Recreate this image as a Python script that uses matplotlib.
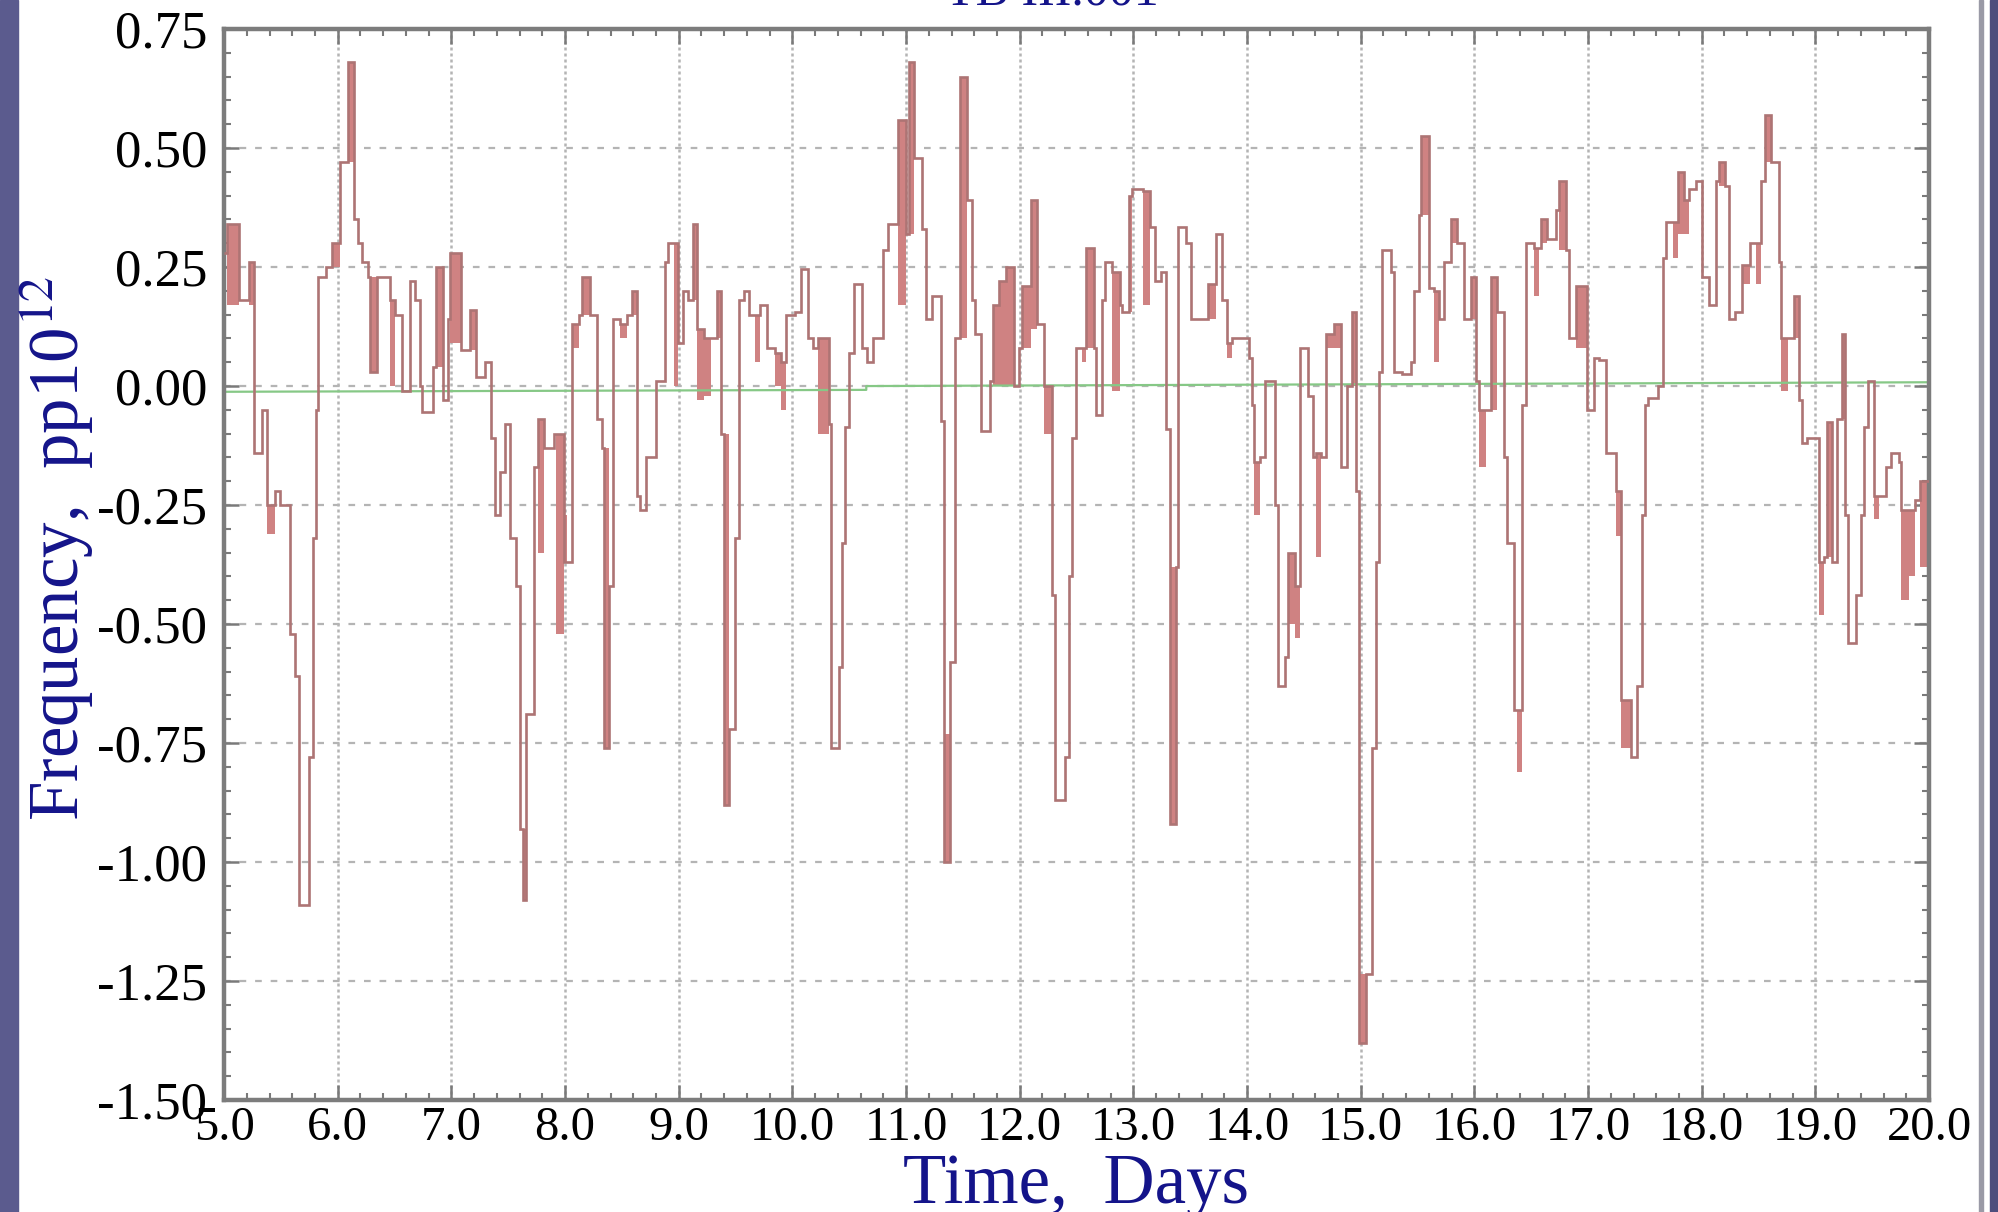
import matplotlib
matplotlib.use("Agg")
import matplotlib.pyplot as plt
from matplotlib.patches import Rectangle
from matplotlib.ticker import MultipleLocator, FormatStrFormatter

plt.rcParams['axes.unicode_minus'] = False
plt.rcParams['font.family'] = ['Liberation Serif', 'DejaVu Serif']
plt.rcParams['mathtext.fontset'] = 'stix'

# step series: start time of each step (days) and its value (pp10^12)
step_t = [5.000, 5.026, 5.129, 5.216, 5.260, 5.333, 5.377, 5.450, 5.494, 5.582,
          5.626, 5.655, 5.743, 5.778, 5.807, 5.830, 5.900, 5.947, 6.020, 6.088,
          6.146, 6.181, 6.210, 6.269, 6.284, 6.342, 6.459, 6.503, 6.561, 6.635,
          6.678, 6.722, 6.737, 6.839, 6.868, 6.927, 6.971, 6.985, 7.088, 7.161,
          7.219, 7.292, 7.351, 7.380, 7.424, 7.468, 7.512, 7.571, 7.600, 7.629,
          7.658, 7.730, 7.759, 7.817, 7.904, 7.991, 8.064, 8.122, 8.151, 8.223,
          8.281, 8.325, 8.339, 8.383, 8.426, 8.484, 8.542, 8.586, 8.629, 8.658,
          8.716, 8.803, 8.875, 8.904, 8.991, 9.035, 9.078, 9.122, 9.165, 9.223,
          9.333, 9.368, 9.397, 9.441, 9.499, 9.528, 9.571, 9.614, 9.716, 9.774,
          9.846, 9.904, 9.948, 10.020, 10.078, 10.135, 10.179, 10.222, 10.323, 10.337,
          10.409, 10.438, 10.467, 10.496, 10.539, 10.611, 10.654, 10.712, 10.798, 10.841,
          10.928, 11.000, 11.029, 11.072, 11.144, 11.173, 11.231, 11.303, 11.331, 11.389,
          11.432, 11.476, 11.533, 11.576, 11.605, 11.663, 11.735, 11.764, 11.821, 11.879,
          11.951, 11.994, 12.023, 12.095, 12.153, 12.210, 12.282, 12.311, 12.398, 12.435,
          12.464, 12.493, 12.580, 12.652, 12.667, 12.725, 12.754, 12.812, 12.884, 12.899,
          12.957, 12.986, 13.087, 13.145, 13.188, 13.246, 13.290, 13.319, 13.377, 13.391,
          13.464, 13.507, 13.652, 13.725, 13.783, 13.826, 13.870, 14.014, 14.043, 14.058,
          14.116, 14.159, 14.246, 14.275, 14.333, 14.362, 14.420, 14.464, 14.536, 14.580,
          14.609, 14.652, 14.696, 14.768, 14.826, 14.883, 14.927, 14.956, 14.985, 15.044,
          15.103, 15.132, 15.161, 15.191, 15.264, 15.293, 15.367, 15.440, 15.469, 15.513,
          15.528, 15.601, 15.645, 15.689, 15.733, 15.792, 15.850, 15.909, 15.968, 16.012,
          16.041, 16.144, 16.202, 16.261, 16.290, 16.349, 16.422, 16.452, 16.525, 16.584,
          16.642, 16.716, 16.745, 16.804, 16.833, 16.891, 16.994, 17.053, 17.097, 17.155,
          17.243, 17.287, 17.375, 17.429, 17.473, 17.501, 17.530, 17.617, 17.660, 17.689,
          17.790, 17.847, 17.890, 17.948, 18.006, 18.063, 18.127, 18.150, 18.207, 18.236,
          18.294, 18.352, 18.424, 18.524, 18.553, 18.611, 18.683, 18.697, 18.813, 18.856,
          18.885, 18.928, 19.029, 19.072, 19.101, 19.144, 19.187, 19.231, 19.259, 19.288,
          19.360, 19.403, 19.432, 19.461, 19.519, 19.620, 19.663, 19.735, 19.749, 19.879,
          19.922]
step_v = [0.28, 0.34, 0.18, 0.26, -0.14, -0.05, -0.25, -0.22, -0.25, -0.52,
          -0.61, -1.09, -0.78, -0.32, -0.05, 0.23, 0.25, 0.30, 0.47, 0.68,
          0.35, 0.30, 0.26, 0.23, 0.03, 0.23, 0.18, 0.15, -0.01, 0.22,
          0.18, 0.00, -0.055, 0.04, 0.25, -0.03, 0.14, 0.28, 0.075, 0.16,
          0.02, 0.05, -0.11, -0.27, -0.18, -0.08, -0.32, -0.42, -0.93, -1.08,
          -0.69, -0.17, -0.07, -0.13, -0.10, -0.37, 0.13, 0.15, 0.23, 0.15,
          -0.07, -0.13, -0.76, -0.42, 0.14, 0.13, 0.15, 0.20, -0.23, -0.26,
          -0.15, 0.01, 0.26, 0.30, 0.09, 0.20, 0.18, 0.34, 0.12, 0.10,
          0.20, -0.10, -0.88, -0.72, -0.32, 0.18, 0.20, 0.15, 0.17, 0.08,
          0.07, 0.05, 0.15, 0.155, 0.245, 0.10, 0.08, 0.10, -0.08, -0.76,
          -0.59, -0.33, -0.085, 0.07, 0.215, 0.08, 0.05, 0.10, 0.285, 0.34,
          0.56, 0.32, 0.68, 0.48, 0.33, 0.14, 0.19, -0.074, -1.00, -0.58,
          0.10, 0.65, 0.39, 0.18, 0.11, -0.095, 0.01, 0.17, 0.22, 0.25,
          0.00, 0.08, 0.21, 0.39, 0.13, 0.00, -0.44, -0.87, -0.78, -0.40,
          -0.11, 0.08, 0.29, 0.08, -0.06, 0.18, 0.26, 0.24, 0.17, 0.155,
          0.40, 0.415, 0.41, 0.335, 0.22, 0.24, -0.09, -0.92, -0.38, 0.335,
          0.30, 0.14, 0.215, 0.32, 0.18, 0.09, 0.10, 0.06, -0.04, -0.16,
          -0.15, 0.01, -0.25, -0.63, -0.57, -0.35, -0.42, 0.08, -0.02, -0.15,
          -0.14, -0.15, 0.11, 0.13, -0.17, 0.00, 0.155, -0.22, -1.38, -1.235,
          -0.76, -0.37, 0.03, 0.285, 0.24, 0.03, 0.025, 0.05, 0.20, 0.36,
          0.525, 0.205, 0.20, 0.14, 0.26, 0.35, 0.30, 0.14, 0.23, 0.01,
          -0.05, 0.23, 0.155, -0.15, -0.33, -0.68, -0.04, 0.30, 0.29, 0.35,
          0.31, 0.37, 0.43, 0.285, 0.10, 0.21, -0.05, 0.06, 0.055, -0.14,
          -0.22, -0.66, -0.78, -0.63, -0.27, -0.04, -0.025, 0.00, 0.27, 0.345,
          0.45, 0.39, 0.415, 0.43, 0.23, 0.17, 0.43, 0.47, 0.42, 0.14,
          0.155, 0.255, 0.30, 0.43, 0.57, 0.47, 0.26, 0.10, 0.19, -0.03,
          -0.12, -0.11, -0.37, -0.36, -0.075, -0.37, -0.07, 0.11, -0.27, -0.54,
          -0.44, -0.27, -0.085, 0.01, -0.23, -0.17, -0.14, -0.16, -0.26, -0.24,
          -0.20]
t_end = 20.0

# densely sampled stretches that show as solid blocks: start, end, low, high
blk_t0 = [5.026, 5.216, 5.377, 5.947, 6.088, 6.284, 6.459, 6.868, 6.985, 7.161,
          7.629, 7.759, 7.919, 7.991, 8.064, 8.151, 8.339, 8.484, 8.586, 8.962,
          9.122, 9.165, 9.223, 9.333, 9.397, 9.672, 9.846, 9.904, 10.222, 10.928,
          11.029, 11.331, 11.476, 11.764, 11.821, 11.879, 12.023, 12.095, 12.210, 12.551,
          12.580, 12.812, 12.957, 13.087, 13.319, 13.652, 13.826, 14.058, 14.362, 14.420,
          14.609, 14.696, 14.768, 14.927, 14.985, 15.528, 15.645, 15.792, 15.968, 16.041,
          16.144, 16.378, 16.525, 16.584, 16.745, 16.891, 17.243, 17.287, 17.746, 17.790,
          17.847, 18.150, 18.352, 18.481, 18.553, 18.697, 18.813, 19.029, 19.101, 19.231,
          19.519, 19.749, 19.821, 19.922]
blk_t1 = [5.129, 5.260, 5.450, 6.020, 6.146, 6.342, 6.503, 6.927, 7.088, 7.219,
          7.658, 7.817, 7.991, 8.020, 8.122, 8.223, 8.383, 8.542, 8.629, 8.991,
          9.165, 9.223, 9.281, 9.368, 9.441, 9.716, 9.904, 9.948, 10.323, 11.000,
          11.072, 11.389, 11.533, 11.821, 11.879, 11.951, 12.095, 12.153, 12.282, 12.580,
          12.652, 12.884, 12.986, 13.145, 13.377, 13.725, 13.870, 14.116, 14.420, 14.464,
          14.652, 14.768, 14.826, 14.956, 15.044, 15.601, 15.689, 15.850, 16.012, 16.100,
          16.202, 16.422, 16.569, 16.642, 16.804, 16.994, 17.287, 17.375, 17.790, 17.847,
          17.890, 18.207, 18.424, 18.524, 18.611, 18.755, 18.856, 19.072, 19.144, 19.259,
          19.562, 19.821, 19.879, 20.000]
blk_lo = [0.17, 0.17, -0.31, 0.25, 0.47, 0.03, 0.00, 0.04, 0.09, 0.075,
          -1.08, -0.35, -0.52, -0.37, 0.08, 0.15, -0.76, 0.10, 0.15, 0.00,
          0.18, -0.03, -0.02, 0.10, -0.88, 0.05, 0.00, -0.05, -0.10, 0.17,
          0.32, -1.00, 0.10, 0.00, 0.00, 0.00, 0.08, 0.12, -0.10, 0.05,
          0.08, -0.01, 0.155, 0.17, -0.92, 0.14, 0.06, -0.27, -0.50, -0.53,
          -0.36, 0.08, 0.08, 0.00, -1.38, 0.36, 0.05, 0.30, 0.14, -0.17,
          -0.05, -0.81, 0.19, 0.30, 0.285, 0.08, -0.315, -0.76, 0.27, 0.32,
          0.32, 0.42, 0.215, 0.215, 0.47, -0.01, 0.10, -0.48, -0.36, -0.07,
          -0.28, -0.45, -0.40, -0.38]
blk_hi = [0.34, 0.26, -0.25, 0.30, 0.68, 0.23, 0.18, 0.25, 0.28, 0.16,
          -0.93, -0.07, -0.10, -0.27, 0.13, 0.23, -0.13, 0.13, 0.20, 0.30,
          0.34, 0.12, 0.10, 0.20, -0.10, 0.15, 0.07, 0.05, 0.10, 0.56,
          0.68, -0.73, 0.65, 0.17, 0.22, 0.25, 0.21, 0.39, 0.00, 0.08,
          0.29, 0.24, 0.40, 0.41, -0.38, 0.215, 0.09, -0.16, -0.35, -0.42,
          -0.14, 0.11, 0.13, 0.155, -1.235, 0.525, 0.20, 0.35, 0.23, -0.05,
          0.23, -0.68, 0.29, 0.35, 0.43, 0.21, -0.22, -0.66, 0.345, 0.45,
          0.39, 0.47, 0.255, 0.30, 0.57, 0.10, 0.19, -0.37, -0.075, 0.11,
          -0.23, -0.26, -0.26, -0.20]

# reference (green) line
ref_t = [5.0, 10.65, 10.65, 20.0]
ref_v = [-0.012, -0.008, 0.0, 0.008]

x_ticks = [5.0, 6.0, 7.0, 8.0, 9.0, 10.0, 11.0, 12.0, 13.0, 14.0, 15.0, 16.0, 17.0, 18.0, 19.0, 20.0]
y_ticks = [0.75, 0.50, 0.25, 0.00, -0.25, -0.50, -0.75, -1.00, -1.25, -1.50]

fig = plt.figure(figsize=(19.99, 12.12), dpi=100)
fig.patch.set_facecolor('white')
ax = fig.add_axes([0.1121, 0.0924, 0.8529, 0.8836])

# slide background strips
fig.patches.append(Rectangle((0, 0), 18 / 1999, 1, transform=fig.transFigure, color='#5b5b8e', zorder=0))
fig.patches.append(Rectangle((1979 / 1999, 0), 4 / 1999, 1, transform=fig.transFigure, color='#9a9aa6', zorder=0))
fig.patches.append(Rectangle((1990 / 1999, 0), 9 / 1999, 1, transform=fig.transFigure, color='#4d4d7c', zorder=0))

ax.grid(True, which='major', axis='y', color='#b4b4b4', linestyle=(0, (3, 4)), linewidth=1.6)
ax.grid(True, which='major', axis='x', color='#b4b4b4', linestyle=(0, (1.2, 1.2)), linewidth=1.8)
ax.set_axisbelow(True)

ax.bar(blk_t0, [h - l for h, l in zip(blk_hi, blk_lo)], width=[b - a for a, b in zip(blk_t0, blk_t1)],
       bottom=blk_lo, align='edge', color='#cf8282', linewidth=0, zorder=2)
ax.stairs(step_v, step_t + [t_end], color='#ad7474', linewidth=1.9, baseline=None, zorder=3)
ax.plot(ref_t, ref_v, color='#86c886', linewidth=1.6, zorder=2.5)

ax.set_xlim(5.0, 20.0)
ax.set_ylim(-1.5, 0.75)
ax.set_xticks(x_ticks)
ax.set_yticks(y_ticks)
ax.xaxis.set_major_formatter(FormatStrFormatter('%.1f'))
ax.yaxis.set_major_formatter(FormatStrFormatter('%.2f'))
ax.xaxis.set_minor_locator(MultipleLocator(0.2))
ax.yaxis.set_minor_locator(MultipleLocator(0.05))
ax.tick_params(axis='both', which='major', direction='in', length=11, width=1.8, color='#7a7a7a',
               top=True, right=True)
ax.tick_params(axis='both', which='minor', direction='in', length=5, width=1.5, color='#7a7a7a',
               top=True, right=True)
ax.tick_params(axis='y', which='major', labelsize=38, pad=12)
ax.tick_params(axis='x', which='major', labelsize=35, pad=4)
for s in ax.spines.values():
    s.set_color('#7c7c7c')
    s.set_linewidth(3.2)

fig.text(1076 / 1999, 1 - 1185 / 1212, 'Time,  Days', ha='center', va='center', fontsize=51, color='#14148a')
fig.text(57 / 1999, 1 - 548 / 1212, r'Frequency,  pp10$^{12}$', ha='center', va='center', rotation=90,
         fontsize=51, color='#14148a')
fig.text(1052 / 1999, 1 + 8 / 1212, 'TB III.001', ha='center', va='center', fontsize=36, color='#14148a')

fig.savefig('out.png', dpi=100)
